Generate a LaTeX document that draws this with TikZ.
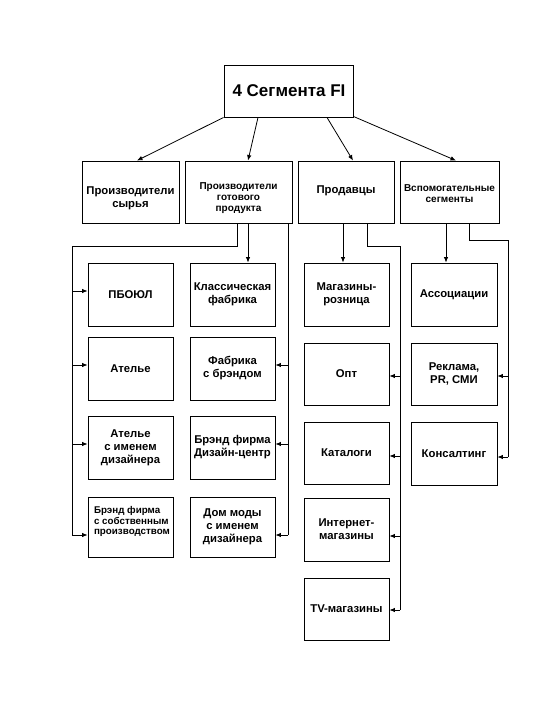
\documentclass[tikz,border=0pt]{standalone}
\usepackage{fontspec}
\setmainfont{Liberation Sans}
\usetikzlibrary{arrows.meta}
\tikzset{
  box/.style={draw, line width=0.9pt, inner sep=0pt, align=center, font=\bfseries\fontsize{11.3}{13}\selectfont},
  conn/.style={line width=0.8pt},
  arr/.style={conn, -{Latex[length=5.5pt,width=4.5pt]}},
  txt/.style={font=\bfseries\fontsize{11.3}{13}\selectfont, align=center},
  smalltxt/.style={font=\bfseries\fontsize{10}{11.3}\selectfont, align=center}
}
\begin{document}
\begin{tikzpicture}[x=1pt,y=-1pt]
\useasboundingbox (0,0) rectangle (540,720);
% top
\node[box, minimum width=129pt, minimum height=52pt] (top) at (288.5,91) {};
\node[font=\bfseries\fontsize{17}{20}\selectfont] (toptxt) at (289,91) {4 Сегмента FI};
% second row
\node[box, minimum width=97pt, minimum height=62pt] (s1) at (130.5,192) {};
\node[txt] (s1t) at (130.5,198) {Производители\\сырья};
\node[box, minimum width=107pt, minimum height=62pt] (s2) at (238.5,192) {};
\node[smalltxt] (s2t) at (238.5,198) {Производители\\готового\\продукта};
\node[box, minimum width=96pt, minimum height=62pt] (s3) at (346,192) {};
\node[txt] (s3t) at (346,191) {Продавцы};
\node[box, minimum width=99pt, minimum height=62pt] (s4) at (449.5,192) {};
\node[smalltxt] (s4t) at (449.5,193.5) {Вспомогательные\\сегменты};
% column A
\node[box, minimum width=85pt, minimum height=63pt] (a1) at (130.5,294.5) {ПБОЮЛ};
\node[box, minimum width=85pt, minimum height=63pt] (a2) at (130.5,368.5) {Ателье};
\node[box, minimum width=85pt, minimum height=63pt] (a3) at (130.5,447.5) {Ателье\\с именем\\дизайнера};
\node[box, minimum width=85pt, minimum height=60pt] (a4) at (130.5,527) {};
\node[font=\bfseries\fontsize{9.8}{10.5}\selectfont, align=left] (a4t) at (132,521.5) {Брэнд фирма\\с собственным\\производством};
% column B
\node[box, minimum width=85pt, minimum height=63pt] (b1) at (232.5,294.5) {Классическая\\фабрика};
\node[box, minimum width=85pt, minimum height=63pt] (b2) at (232.5,368.5) {Фабрика\\с брэндом};
\node[box, minimum width=85pt, minimum height=63pt] (b3) at (232.5,447.5) {Брэнд фирма\\Дизайн-центр};
\node[box, minimum width=85pt, minimum height=60pt] (b4) at (232.5,527) {Дом моды\\с именем\\дизайнера};
% column C
\node[box, minimum width=85pt, minimum height=63pt] (c1) at (346.5,294.5) {Магазины-\\розница};
\node[box, minimum width=85pt, minimum height=62pt] (c2) at (346.5,374) {Опт};
\node[box, minimum width=85pt, minimum height=62pt] (c3) at (346.5,453) {Каталоги};
\node[box, minimum width=85pt, minimum height=63pt] (c4) at (346.5,529.5) {Интернет-\\магазины};
\node[box, minimum width=85pt, minimum height=62pt] (c5) at (346.5,609) {TV-магазины};
% column D
\node[box, minimum width=86pt, minimum height=63pt] (d1) at (454,294.5) {Ассоциации};
\node[box, minimum width=86pt, minimum height=62pt] (d2) at (454,374) {Реклама,\\PR, СМИ};
\node[box, minimum width=86pt, minimum height=63pt] (d3) at (454,453.5) {Консалтинг};
% top arrows
\draw[arr] (top.south west) -- ([xshift=6.5pt]s1.north);
\draw[arr] ([xshift=-30.5pt]top.south) -- ([xshift=9.5pt]s2.north);
\draw[arr] ([xshift=38.5pt]top.south) -- ([xshift=7pt]s3.north);
\draw[arr] ([yshift=1pt]top.south east) -- ([xshift=6.5pt]s4.north);
% left bus (s2)
\coordinate (lb) at (72,246);
\coordinate (lbe) at (72,535);
\draw[conn] ([xshift=-1.5pt]s2.south) |- (lb) -- (lbe);
\draw[arr] ([yshift=3.5pt]a1.west -| lb) -- ([yshift=3.5pt]a1.west);
\draw[arr] ([yshift=3.5pt]a2.west -| lb) -- ([yshift=3.5pt]a2.west);
\draw[arr] ([yshift=3.5pt]a3.west -| lb) -- ([yshift=3.5pt]a3.west);
\draw[arr] (lbe) -- (lbe -| a4.west);
\draw[arr] ([xshift=9.5pt]s2.south) -- ([xshift=15.5pt]b1.north);
% right bus (s2)
\coordinate (rb) at (288,535);
\draw[conn] ([xshift=49.5pt]s2.south) -- (rb);
\draw[arr] ([yshift=3.5pt]b2.east -| rb) -- ([yshift=3.5pt]b2.east);
\draw[arr] ([yshift=3.5pt]b3.east -| rb) -- ([yshift=3.5pt]b3.east);
\draw[arr] (rb) -- (rb -| b4.east);
% s3
\draw[arr] ([xshift=-3pt]s3.south) -- ([xshift=-3.5pt]c1.north);
\coordinate (cb) at (400,246);
\coordinate (cbe) at (400,610);
\draw[conn] ([xshift=21pt]s3.south) |- (cb) -- (cbe);
\draw[arr] ([yshift=-2pt]c2.east -| cb) -- ([yshift=-2pt]c2.east);
\draw[arr] ([yshift=-3pt]c3.east -| cb) -- ([yshift=-3pt]c3.east);
\draw[arr] ([yshift=-6.5pt]c4.east -| cb) -- ([yshift=-6.5pt]c4.east);
\draw[arr] (cbe) -- (cbe -| c5.east);
% s4
\draw[arr] ([xshift=-3.5pt]s4.south) -- ([xshift=-8pt]d1.north);
\coordinate (db) at (508,240);
\coordinate (dbe) at (508,457);
\draw[conn] ([xshift=19.5pt]s4.south) |- (db) -- (dbe);
\draw[arr] ([yshift=-2pt]d2.east -| db) -- ([yshift=-2pt]d2.east);
\draw[arr] (dbe) -- (dbe -| d3.east);
\end{tikzpicture}
\end{document}
